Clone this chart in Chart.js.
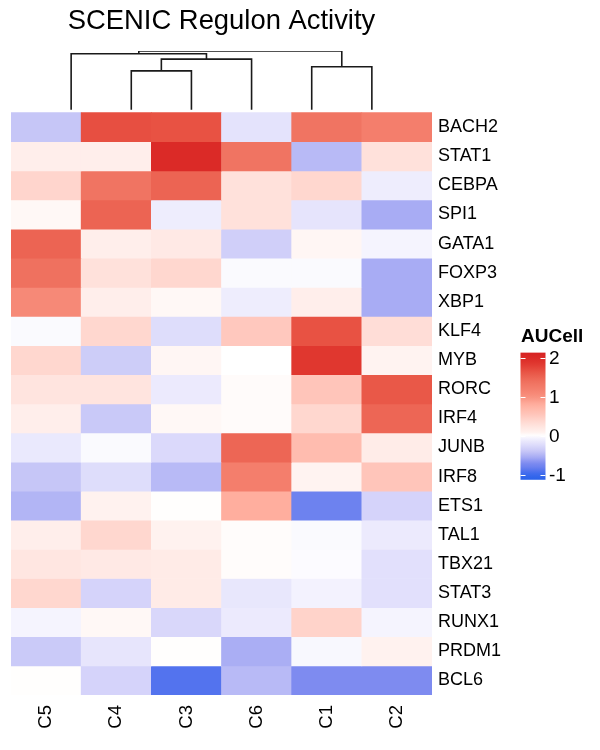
<!DOCTYPE html>
<html>
<head>
<meta charset="utf-8">
<script src="https://cdn.jsdelivr.net/npm/chart.js@4.4.1/dist/chart.umd.min.js"></script>
<style>
  html, body { margin: 0; padding: 0; background: #fff; }
  #wrap { width: 600px; height: 750px; }
</style>
</head>
<body>
<div id="wrap"><canvas id="c"></canvas></div>
<script>
const columns = ['C5', 'C4', 'C3', 'C6', 'C1', 'C2']
const regulons = ['BACH2', 'STAT1', 'CEBPA', 'SPI1', 'GATA1', 'FOXP3', 'XBP1', 'KLF4', 'MYB', 'RORC',
  'IRF4', 'JUNB', 'IRF8', 'ETS1', 'TAL1', 'TBX21', 'STAT3', 'RUNX1', 'PRDM1', 'BCL6']
// scaled AUCell, one row per regulon, columns in the order above
const aucell = [
  [-0.40, 1.67, 1.65, -0.18, 1.35, 1.20],
  [0.12, 0.12, 2.00, 1.35, -0.47, 0.28],
  [0.40, 1.35, 1.50, 0.28, 0.38, -0.10],
  [0.05, 1.50, -0.10, 0.28, -0.17, -0.55],
  [1.50, 0.12, 0.18, -0.33, 0.06, -0.06],
  [1.38, 0.28, 0.38, -0.03, -0.03, -0.55],
  [1.08, 0.12, 0.05, -0.10, 0.12, -0.55],
  [-0.03, 0.38, -0.23, 0.52, 1.65, 0.32],
  [0.38, -0.35, 0.06, 0.00, 1.85, 0.08],
  [0.24, 0.24, -0.12, 0.03, 0.55, 1.60],
  [0.12, -0.38, 0.05, 0.03, 0.38, 1.48],
  [-0.13, -0.03, -0.26, 1.48, 0.65, 0.15],
  [-0.40, -0.23, -0.47, 1.20, 0.08, 0.55],
  [-0.50, 0.09, 0.01, 0.80, -0.80, -0.30],
  [0.12, 0.38, 0.09, 0.02, -0.03, -0.12],
  [0.22, 0.18, 0.16, 0.02, -0.02, -0.20],
  [0.38, -0.30, 0.16, -0.15, -0.07, -0.20],
  [-0.06, 0.05, -0.27, -0.12, 0.42, -0.06],
  [-0.37, -0.16, 0.01, -0.54, -0.04, 0.09],
  [0.01, -0.30, -0.90, -0.47, -0.70, -0.70]
]
// column clustering: [left, right, height], merged nodes are n1, n2, ...
const merges = [
  ['C4', 'C3', 0.66],
  ['n1', 'C6', 0.86],
  ['C5', 'n2', 0.95],
  ['C1', 'C2', 0.73],
  ['n3', 'n4', 1.0]
]
const legendTicks = [-1, 0, 1, 2]

const colorStops = [
  [-1.13, '#2a62ea'], [-1, '#3869ec'], [-0.9, '#5373ee'], [-0.8, '#6d82ef'], [-0.7, '#7e8bf0'],
  [-0.55, '#a8acf4'], [-0.4, '#c6c6f7'], [-0.25, '#dcdafb'], [-0.1, '#eeedfd'], [0, '#ffffff'],
  [0.1, '#fff0ed'], [0.3, '#ffdfd9'], [0.55, '#ffc5ba'], [0.8, '#ffae9e'], [1.0, '#f8917f'],
  [1.2, '#f47e6c'], [1.35, '#f07462'], [1.5, '#ec6453'], [1.65, '#e85243'], [1.85, '#e0372f'],
  [2.0, '#db2a27'], [2.13, '#d62222']
]
const hex = h => [1, 3, 5].map(i => parseInt(h.slice(i, i + 2), 16))
function colorFor(v) {
  if (v <= colorStops[0][0]) return colorStops[0][1]
  for (let i = 1; i < colorStops.length; i++) {
    const [v1, c1] = colorStops[i]
    if (v <= v1) {
      const [v0, c0] = colorStops[i - 1]
      const t = (v - v0) / (v1 - v0)
      const a = hex(c0), b = hex(c1)
      const m = a.map((x, k) => Math.round(x + (b[k] - x) * t))
      return `rgb(${m[0]},${m[1]},${m[2]})`
    }
  }
  return colorStops[colorStops.length - 1][1]
}

const nRows = regulons.length
const dendroBase = nRows + 0.1
const dendroSpan = 2.02
const dy = h => dendroBase + h * dendroSpan

const font = '"Liberation Sans", Arial, Helvetica, sans-serif'

const rowSets = regulons.map((name, r) => ({
  type: 'bar',
  label: name,
  data: columns.map(() => [nRows - 1 - r, nRows - r]),
  backgroundColor: aucell[r].map(colorFor),
  borderWidth: 0,
  barPercentage: 1,
  categoryPercentage: 1,
  grouped: false
}))

const nodeX = {}
const nodeH = {}
columns.forEach((c, i) => { nodeX[c] = i; nodeH[c] = 0 })
const dendroSets = merges.map(([a, b, h], k) => {
  const id = 'n' + (k + 1)
  nodeX[id] = (nodeX[a] + nodeX[b]) / 2
  nodeH[id] = h
  return {
    type: 'line',
    label: id,
    xAxisID: 'xd',
    yAxisID: 'y',
    data: [
      {x: nodeX[a], y: dy(nodeH[a])},
      {x: nodeX[a], y: dy(h)},
      {x: nodeX[b], y: dy(h)},
      {x: nodeX[b], y: dy(nodeH[b])}
    ],
    borderColor: '#1a1a1a',
    borderWidth: 1.6,
    pointRadius: 0,
    tension: 0,
    fill: false,
    borderCapStyle: 'butt',
    borderJoinStyle: 'miter'
  }
})

const legendPlugin = {
  id: 'aucLegend',
  afterDraw(chart) {
    const ctx = chart.ctx
    const x0 = 520.5, w = 25
    const yAt = v => 435.7 - v * 39
    const lo = legendTicks[0] - 0.13, hi = legendTicks[legendTicks.length - 1] + 0.13
    ctx.save()
    ctx.fillStyle = '#000'
    ctx.font = `bold 19px ${font}`
    ctx.textBaseline = 'alphabetic'
    ctx.textAlign = 'left'
    ctx.fillText('AUCell', 521, 342)
    const g = ctx.createLinearGradient(0, yAt(hi), 0, yAt(lo))
    for (let i = 0; i <= 40; i++) {
      const v = hi - (hi - lo) * i / 40
      g.addColorStop(i / 40, colorFor(v))
    }
    ctx.fillStyle = g
    ctx.fillRect(x0, yAt(hi), w, yAt(lo) - yAt(hi))
    ctx.strokeStyle = '#fff'
    ctx.lineWidth = 1.2
    ctx.fillStyle = '#000'
    ctx.font = `19px ${font}`
    ctx.textBaseline = 'middle'
    legendTicks.forEach(t => {
      const y = Math.round(yAt(t)) + 0.5
      ctx.beginPath()
      ctx.moveTo(x0, y); ctx.lineTo(x0 + 5, y)
      ctx.moveTo(x0 + w - 5, y); ctx.lineTo(x0 + w, y)
      ctx.stroke()
      ctx.fillText(String(t), 549, yAt(t) + 1)
    })
    ctx.restore()
  }
}

new Chart(document.getElementById('c'), {
  type: 'bar',
  data: {labels: columns, datasets: [...rowSets, ...dendroSets]},
  plugins: [legendPlugin],
  options: {
    responsive: true,
    maintainAspectRatio: false,
    animation: false,
    layout: {padding: {left: 11, top: 0, right: 0, bottom: 0}},
    plugins: {
      legend: {display: false},
      tooltip: {enabled: false},
      title: {
        display: true,
        text: 'SCENIC Regulon Activity',
        fullSize: false,
        color: '#000',
        font: {family: font, size: 27.4, weight: 'normal'},
        padding: {top: 5, bottom: 13}
      }
    },
    scales: {
      x: {
        type: 'category',
        position: 'bottom',
        grid: {display: false, drawTicks: false},
        border: {display: false},
        ticks: {
          color: '#000',
          font: {family: font, size: 18.5},
          minRotation: 90,
          maxRotation: 90,
          padding: 10,
          autoSkip: false
        },
        afterFit(s) { s.height = 55 }
      },
      xd: {
        type: 'linear',
        display: false,
        min: -0.5,
        max: columns.length - 0.5
      },
      y: {
        type: 'linear',
        position: 'right',
        min: 0,
        max: dendroBase + dendroSpan,
        grid: {display: false, drawTicks: false},
        border: {display: false},
        afterBuildTicks(s) {
          s.ticks = regulons.map((_, r) => ({value: nRows - 0.5 - r}))
        },
        ticks: {
          color: '#000',
          font: {family: font, size: 18},
          padding: 6,
          autoSkip: false,
          callback: (v, i) => regulons[i]
        },
        afterFit(s) { s.width = 168 }
      }
    }
  }
})
</script>
</body>
</html>
